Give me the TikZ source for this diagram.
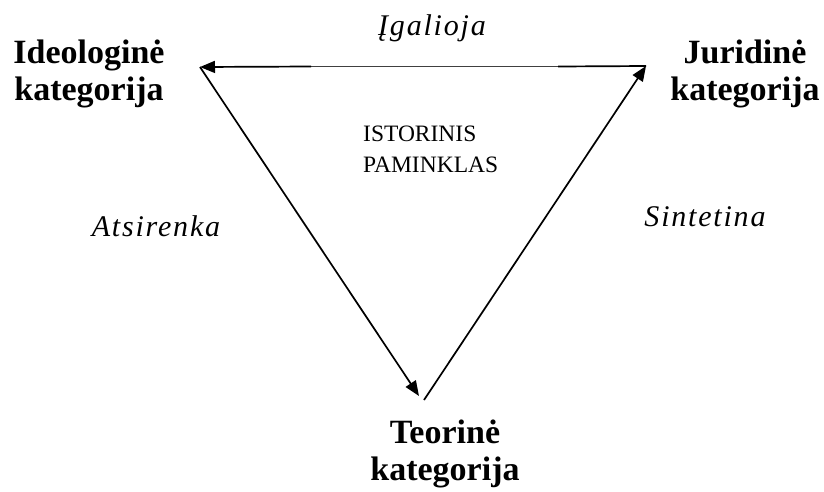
\documentclass[tikz,border=0pt]{standalone}
\usepackage{fontspec}
\setmainfont{Liberation Serif}
\newfontfamily\spacedit[LetterSpace=6]{Liberation Serif}
\usetikzlibrary{arrows.meta}
\begin{document}
\begin{tikzpicture}[x=1pt,y=-1pt,
  cat/.style={inner sep=0pt,align=center,font=\fontsize{34}{37}\selectfont\bfseries},
  mid/.style={inner sep=0pt,align=left,font=\fontsize{23.5}{31}\selectfont},
  verb/.style={inner sep=0pt,anchor=base,font=\fontsize{30}{34}\selectfont\spacedit\itshape},
  edge/.style={line width=1.7pt},
  tip/.style={-{Triangle[length=15pt,width=12pt]}}]
\useasboundingbox (0,0) rectangle (824,491);
% vertices
\coordinate (L) at (200,67);
\coordinate (R) at (646,66);
\coordinate (Bl) at (419,396);
\coordinate (Br) at (424,400);
\coordinate (T1) at (558,66.5);
\coordinate (T2) at (311,66.5);
% labels
\node[cat,anchor=north] (ideo) at (89,40) {Ideologinė\\kategorija};
\node[cat,anchor=north] (jur) at (745,40) {Juridinė\\kategorija};
\node[cat,anchor=north] (teo) at (445,420) {Teorinė\\kategorija};
\node[mid,anchor=north west] (ist) at (363,126) {ISTORINIS\\PAMINKLAS};
\node[verb] (igal) at (432,35) {Įgalioja};
\node[verb] (atsi) at (156,236) {Atsirenka};
\node[verb] (sint) at (705,226) {Sintetina};
% connectors
\draw[edge] (R) -- (T1);
\draw[line width=1pt,black!75] (T1) -- (T2);
\draw[edge,tip] (T2) -- (L);
\draw[edge,tip] (L) -- (Bl);
\draw[edge,tip] (Br) -- (R);
\end{tikzpicture}
\end{document}
